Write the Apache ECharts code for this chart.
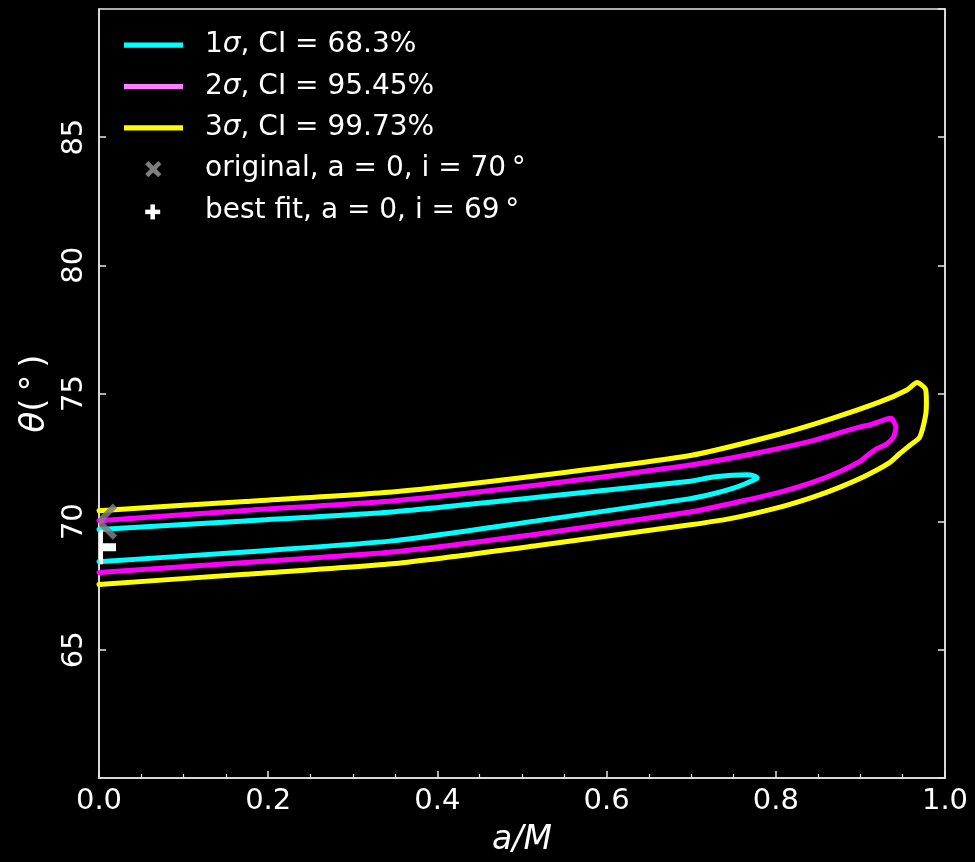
<!DOCTYPE html>
<html>
<head>
<meta charset="utf-8">
<title>Confidence contours: a/M vs θ</title>
<script src="https://cdn.jsdelivr.net/npm/echarts@6/dist/echarts.min.js"></script>
<style>
  html, body { margin: 0; padding: 0; background: #000; }
  #chart { width: 975px; height: 862px; }
</style>
</head>
<body>
<div id="chart"></div>
<script>
// Confidence contours in the (a/M, θ) plane, each as [a/M, θ in degrees]
const contour1Sigma = [
  [0, 69.69], [0.173, 70.03], [0.350, 70.39], [0.521, 70.96], [0.699, 71.58],
  [0.726, 71.74], [0.766, 71.83], [0.775, 71.78], [0.778, 71.71], [0.777, 71.67],
  [0.764, 71.48], [0.750, 71.31], [0.726, 71.09], [0.699, 70.90], [0.521, 70.05],
  [0.350, 69.26], [0.173, 68.82], [0, 68.44]
];
const contour2Sigma = [
  [0, 70.04], [0.173, 70.44], [0.350, 70.82], [0.521, 71.44], [0.687, 72.15],
  [0.766, 72.60], [0.844, 73.16], [0.884, 73.55], [0.902, 73.72], [0.911, 73.77],
  [0.936, 74.03], [0.942, 73.68], [0.939, 73.29], [0.931, 73.03], [0.919, 72.84],
  [0.907, 72.55], [0.899, 72.34], [0.876, 71.96], [0.844, 71.54], [0.805, 71.15],
  [0.746, 70.70], [0.699, 70.38], [0.521, 69.53], [0.350, 68.83], [0.173, 68.41],
  [0, 68.02]
];
const contour3Sigma = [
  [0, 70.43], [0.173, 70.79], [0.350, 71.17], [0.521, 71.80], [0.699, 72.58],
  [0.805, 73.42], [0.864, 74.00], [0.923, 74.67], [0.955, 75.14], [0.967, 75.43],
  [0.977, 75.17], [0.978, 74.65], [0.977, 74.13], [0.970, 73.29], [0.959, 72.99],
  [0.946, 72.64], [0.934, 72.29], [0.907, 71.80], [0.876, 71.35], [0.844, 70.96],
  [0.805, 70.57], [0.746, 70.12], [0.699, 69.88], [0.521, 69.08], [0.350, 68.37],
  [0.173, 67.95], [0, 67.55]
];
const originalPoint = [[0, 70]];
const bestFitPoint = [[0, 69]];

const legendLabels = [
  '{n|1}{i|σ}{n|, CI = 68.3%}',
  '{n|2}{i|σ}{n|, CI = 95.45%}',
  '{n|3}{i|σ}{n|, CI = 99.73%}',
  '{n|original, a = 0, i = 70\u2009°}',
  '{n|best fit, a = 0, i = 69\u2009°}'
];

const FONT = '"DejaVu Sans", "Liberation Sans", sans-serif';
const AXIS_COLOR = '#e6e6e6';
const C1 = '#00ffff', C2 = '#ff00ff', C3 = '#ffff00';
const LEGEND_C2 = '#ff80ff';
const GREY = '#7f7f7f';

const chart = echarts.init(document.getElementById('chart'), null, { renderer: 'canvas' });

function contourSeries(name, data, color) {
  return {
    name, type: 'line', data, showSymbol: false, symbol: 'none', clip: true,
    smooth: 0.2, silent: true, animation: false, z: 3,
    lineStyle: { color, width: 5, join: 'round', cap: 'round' }
  };
}

// Cross and plus markers drawn through the axis scales, clipped by the frame
function crossRender(half, width, color, opacity) {
  return function (params, api) {
    const p = api.coord([api.value(0), api.value(1)]);
    return {
      type: 'group',
      children: [
        { type: 'line', shape: { x1: p[0] - half, y1: p[1] - half, x2: p[0] + half, y2: p[1] + half },
          style: { stroke: color, lineWidth: width, opacity } },
        { type: 'line', shape: { x1: p[0] - half, y1: p[1] + half, x2: p[0] + half, y2: p[1] - half },
          style: { stroke: color, lineWidth: width, opacity } }
      ]
    };
  };
}
function plusRender(half, width, color) {
  return function (params, api) {
    const p = api.coord([api.value(0), api.value(1)]);
    return {
      type: 'group',
      children: [
        { type: 'line', shape: { x1: p[0] - half, y1: p[1], x2: p[0] + half, y2: p[1] },
          style: { stroke: color, lineWidth: width } },
        { type: 'line', shape: { x1: p[0], y1: p[1] - half, x2: p[0], y2: p[1] + half },
          style: { stroke: color, lineWidth: width } }
      ]
    };
  };
}

// Legend block in the upper-left corner of the frame
const rowY = [45, 86.5, 127.8, 169.1, 210.4];
const lineColors = [C1, LEGEND_C2, C3];
const legendGraphics = [];
lineColors.forEach((c, k) => {
  legendGraphics.push({
    type: 'rect', left: 124, top: rowY[k] - 2.6, z: 10,
    shape: { width: 59, height: 5.3 }, style: { fill: c }
  });
});
legendGraphics.push({
  type: 'group', x: 153.3, y: rowY[3], z: 10,
  children: [
    { type: 'line', shape: { x1: -6.5, y1: -6.5, x2: 6.5, y2: 6.5 }, style: { stroke: GREY, lineWidth: 4.5 } },
    { type: 'line', shape: { x1: -6.5, y1: 6.5, x2: 6.5, y2: -6.5 }, style: { stroke: GREY, lineWidth: 4.5 } }
  ]
});
legendGraphics.push({
  type: 'group', x: 152.7, y: rowY[4] + 1.5, z: 10,
  children: [
    { type: 'line', shape: { x1: -7.5, y1: 0, x2: 7.5, y2: 0 }, style: { stroke: '#fff', lineWidth: 4.5 } },
    { type: 'line', shape: { x1: 0, y1: -7.5, x2: 0, y2: 7.5 }, style: { stroke: '#fff', lineWidth: 4.5 } }
  ]
});
legendLabels.forEach((t, k) => {
  legendGraphics.push({
    type: 'text', x: 205, y: rowY[k], z: 10,
    style: {
      text: t, verticalAlign: 'middle', align: 'left',
      rich: {
        n: { fontFamily: FONT, fontSize: 28, fill: '#fff' },
        i: { fontFamily: FONT, fontSize: 28, fontStyle: 'italic', fill: '#fff' }
      }
    }
  });
});

const tickLabel = { color: '#fff', fontFamily: FONT, fontSize: 29 };

chart.setOption({
  backgroundColor: '#000',
  animation: false,
  grid: {
    left: 99, right: 30, top: 9, bottom: 82,
    show: true, borderColor: AXIS_COLOR, borderWidth: 1.5, backgroundColor: 'transparent'
  },
  xAxis: {
    type: 'value', min: 0, max: 1, interval: 0.2,
    name: '{i|a/M}', nameLocation: 'middle', nameGap: 46,
    nameTextStyle: { rich: { i: { fontFamily: FONT, fontSize: 33, fontStyle: 'italic', color: '#fff' } } },
    axisLine: { show: true, lineStyle: { color: AXIS_COLOR, width: 1.5 } },
    axisTick: { show: true, inside: true, length: 7, lineStyle: { color: AXIS_COLOR, width: 1.5 } },
    minorTick: { show: true, splitNumber: 4, length: 4, lineStyle: { color: AXIS_COLOR, width: 1.2 } },
    axisLabel: Object.assign({ margin: 9, formatter: v => v.toFixed(1) }, tickLabel),
    splitLine: { show: false }
  },
  yAxis: [
    {
      type: 'value', min: 60, max: 90, interval: 5, position: 'left',
      name: '{t|θ}{n|(\u2009°\u2009)}', nameLocation: 'middle', nameGap: 42,
      nameTextStyle: {
        rich: {
          t: { fontFamily: FONT, fontSize: 34, fontStyle: 'italic', color: '#fff' },
          n: { fontFamily: FONT, fontSize: 34, color: '#fff' }
        }
      },
      axisLine: { show: true, lineStyle: { color: AXIS_COLOR, width: 1.5 } },
      axisTick: { show: true, inside: true, length: 7, lineStyle: { color: AXIS_COLOR, width: 1.5 } },
      axisLabel: Object.assign({ margin: 10, rotate: 90, showMinLabel: false, showMaxLabel: false }, tickLabel),
      splitLine: { show: false }
    },
    {
      type: 'value', min: 60, max: 90, interval: 5, position: 'right',
      axisLine: { show: true, lineStyle: { color: AXIS_COLOR, width: 1.5 } },
      axisTick: { show: true, inside: true, length: 7, lineStyle: { color: AXIS_COLOR, width: 1.5 } },
      axisLabel: { show: false },
      splitLine: { show: false }
    }
  ],
  series: [
    contourSeries('1σ', contour1Sigma, C1),
    contourSeries('2σ', contour2Sigma, C2),
    contourSeries('3σ', contour3Sigma, C3),
    {
      name: 'original', type: 'custom', data: originalPoint, clip: true, z: 4, silent: true,
      renderItem: crossRender(16, 6, GREY, 0.85)
    },
    {
      name: 'best fit', type: 'custom', data: bestFitPoint, clip: true, z: 5, silent: true,
      renderItem: plusRender(17, 8, '#ffffff')
    }
  ],
  graphic: legendGraphics
});
</script>
</body>
</html>
